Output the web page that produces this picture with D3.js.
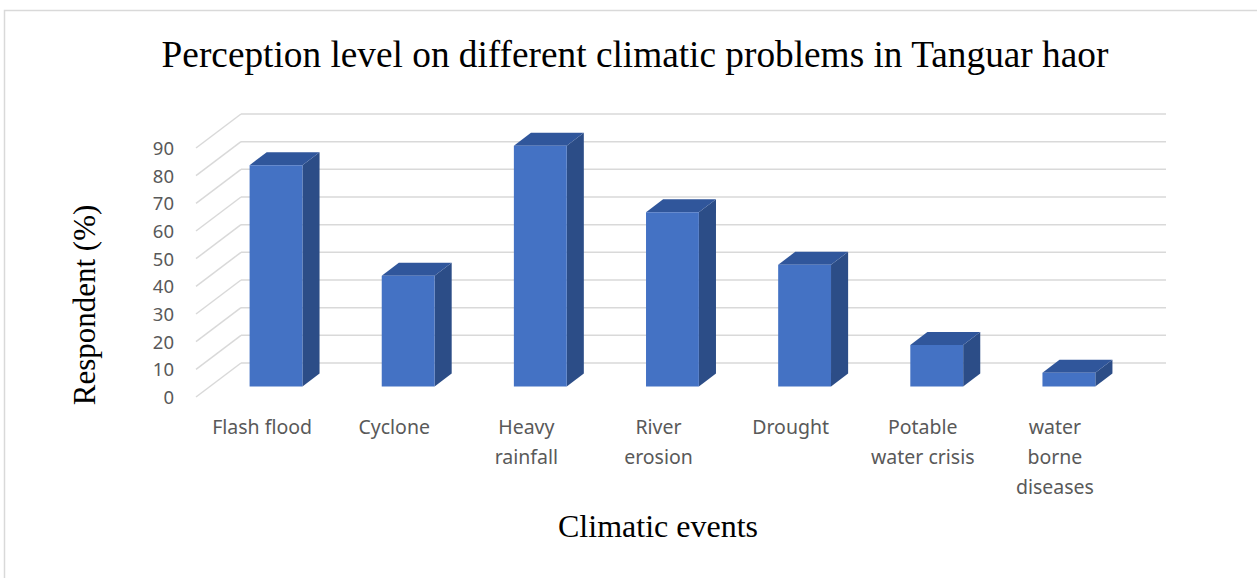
<!DOCTYPE html>
<html>
<head>
<meta charset="utf-8">
<script src="https://cdn.jsdelivr.net/npm/d3@7"></script>
<style>
  html, body { margin: 0; padding: 0; background: #ffffff; }
  svg { display: block; }
</style>
</head>
<body>
<svg id="chart" width="1257" height="578"></svg>
<script>
// Survey results: share of respondents perceiving each climatic problem
const categories = ["Flash flood", "Cyclone", "Heavy rainfall", "River erosion", "Drought", "Potable water crisis", "water borne diseases"];
const respondents = [80, 40, 87, 63, 44, 15, 5];
const tickLabels = [["Flash flood"], ["Cyclone"], ["Heavy", "rainfall"], ["River", "erosion"], ["Drought"], ["Potable", "water crisis"], ["water", "borne", "diseases"]];
const yTicks = [0, 10, 20, 30, 40, 50, 60, 70, 80, 90];

const svg = d3.select("#chart");

// outer chart frame
svg.append("rect")
  .attr("x", 4.5).attr("y", 10.5)
  .attr("width", 1400).attr("height", 700)
  .attr("fill", "none").attr("stroke", "#d9d9d9").attr("stroke-width", 1.5);

// back wall scales
const x = d3.scaleBand().domain(categories).range([241, 1166]).paddingInner(0.6).paddingOuter(0.3);
const y = d3.scaleLinear().domain([0, 90]).range([363, 114]);

// oblique depth: z = 0 at the back wall, z = 1 at the front edge
const DX = -45, DY = 34;
const proj = (px, v, z) => [px + z * DX, y(v) + z * DY];
const zBack = 0.31, zFront = 0.69;

// gridlines on the back wall and the left side wall
const grid = svg.append("g").attr("stroke", "#d9d9d9").attr("stroke-width", 1.5).attr("fill", "none");
yTicks.forEach(t => {
  grid.append("line").attr("x1", x.range()[0]).attr("x2", x.range()[1]).attr("y1", y(t)).attr("y2", y(t));
  const f = proj(x.range()[0], t, 1);
  grid.append("line").attr("x1", f[0]).attr("y1", f[1]).attr("x2", x.range()[0]).attr("y2", y(t));
});

// value axis labels
svg.append("g").selectAll("text").data(yTicks).join("text")
  .attr("x", 174)
  .attr("y", d => proj(x.range()[0], d, 1)[1] + 2)
  .attr("text-anchor", "end").attr("dominant-baseline", "middle")
  .attr("font-family", "'Noto Sans', sans-serif").attr("font-size", 18.5)
  .attr("fill", "#595959")
  .text(d => d);

// 3D columns
const pts = a => a.map(p => p.join(",")).join(" ");
const bars = svg.append("g").selectAll("g").data(categories).join("g");
bars.each(function(c, i) {
  const g = d3.select(this);
  const v = respondents[i];
  const x0 = x(c), x1 = x(c) + x.bandwidth();
  // side face
  g.append("polygon").attr("fill", "#2c4d87").attr("points", pts([
    proj(x1, 0, zFront), proj(x1, v, zFront), proj(x1, v, zBack), proj(x1, 0, zBack)
  ]));
  // top face
  g.append("polygon").attr("fill", "#30569b").attr("points", pts([
    proj(x0, v, zFront), proj(x1, v, zFront), proj(x1, v, zBack), proj(x0, v, zBack)
  ]));
  // front face
  g.append("polygon").attr("fill", "#4472c4").attr("points", pts([
    proj(x0, 0, zFront), proj(x1, 0, zFront), proj(x1, v, zFront), proj(x0, v, zFront)
  ]));
});

// category labels along the front edge
const cat = svg.append("g").selectAll("text").data(categories).join("text")
  .attr("text-anchor", "middle")
  .attr("font-family", "'Noto Sans', sans-serif").attr("font-size", 19.5)
  .attr("fill", "#595959")
  .attr("transform", c => `translate(${x(c) + x.bandwidth() / 2 + DX},434)`);
cat.each(function(c, i) {
  d3.select(this).selectAll("tspan").data(tickLabels[i]).join("tspan")
    .attr("x", 0).attr("y", (d, j) => j * 30).text(d => d);
});

// titles
svg.append("text")
  .attr("x", 635).attr("y", 67)
  .attr("text-anchor", "middle")
  .attr("font-family", "'Liberation Serif', 'Times New Roman', serif").attr("font-size", 37.3)
  .attr("fill", "#000")
  .text("Perception level on different climatic problems in Tanguar haor");

svg.append("text")
  .attr("transform", "translate(95,305) rotate(-90)")
  .attr("text-anchor", "middle")
  .attr("font-family", "'Liberation Serif', 'Times New Roman', serif").attr("font-size", 31)
  .attr("fill", "#000")
  .text("Respondent (%)");

svg.append("text")
  .attr("x", 658).attr("y", 537)
  .attr("text-anchor", "middle")
  .attr("font-family", "'Liberation Serif', 'Times New Roman', serif").attr("font-size", 32)
  .attr("fill", "#000")
  .text("Climatic events");
</script>
</body>
</html>
